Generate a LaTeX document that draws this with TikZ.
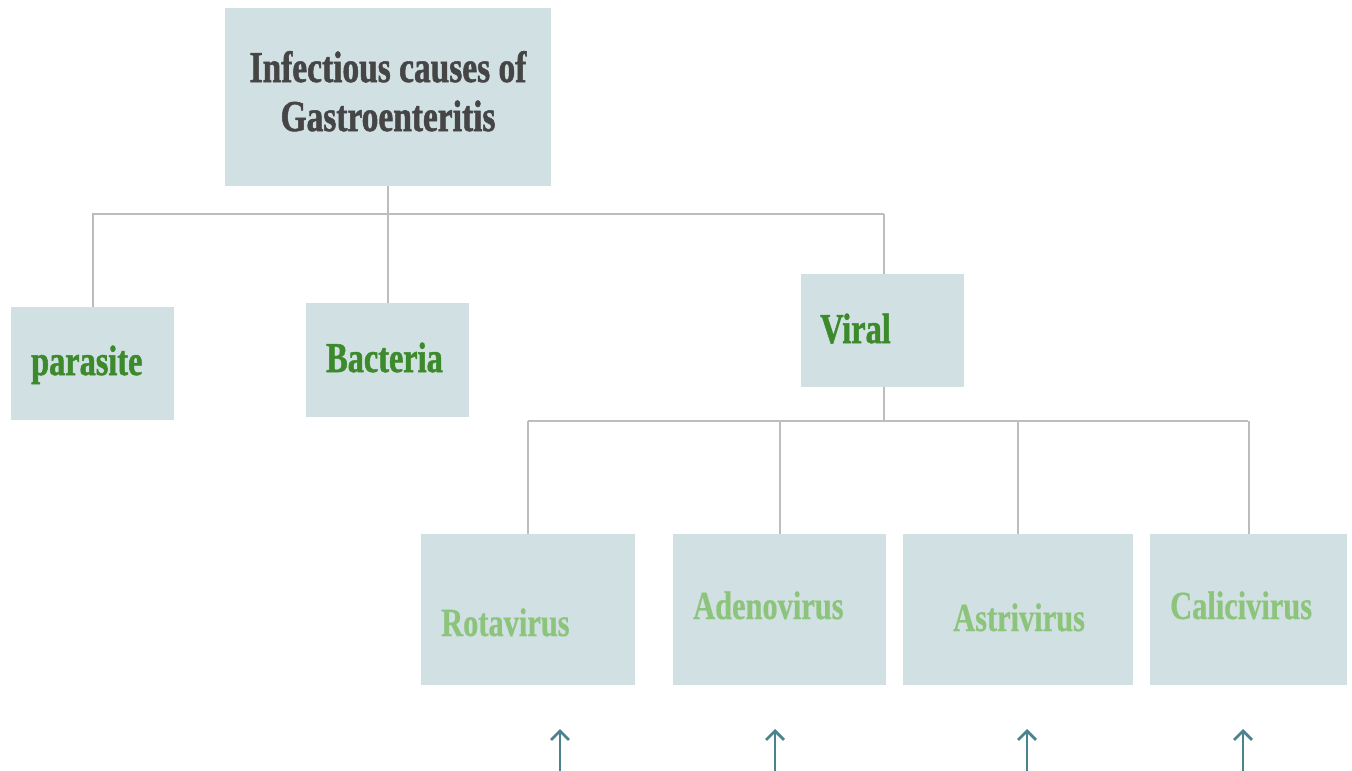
\documentclass[tikz,border=0pt]{standalone}
\usepackage{fontspec}
\newfontfamily\boxfont[FakeStretch=0.76,FakeBold=0.5]{Liberation Serif Bold}
\newfontfamily\headfont[FakeStretch=0.76,FakeBold=1.2]{Liberation Serif Bold}
\usetikzlibrary{arrows.meta}
\definecolor{boxfill}{HTML}{D1E0E3}
\definecolor{titlegray}{HTML}{454545}
\definecolor{darkgreen}{HTML}{3D8A2C}
\definecolor{lightgreen}{HTML}{8DC47B}
\definecolor{linegray}{HTML}{BDBDBD}
\definecolor{arrowteal}{HTML}{4A828E}
\tikzset{
  box/.style={fill=boxfill, draw=none, inner sep=0pt},
  lbl/.style={inner sep=0pt, anchor=base west, font=\boxfont\fontsize{40}{44}\selectfont},
  hlbl/.style={inner sep=0pt, anchor=base west, font=\headfont\fontsize{42.5}{46}\selectfont},
  ttl/.style={inner sep=0pt, anchor=base, text=titlegray, font=\headfont\fontsize{44}{48}\selectfont},
  conn/.style={draw=linegray, line width=2pt},
  uparrow/.style={draw=arrowteal, line width=2.7pt, -{Straight Barb[length=9pt,width=18pt,line width=2.7pt]}}
}
\begin{document}
\begin{tikzpicture}[x=1pt,y=-1pt]
\useasboundingbox (0,0) rectangle (1352,771);
% boxes
\node[box, minimum width=326pt, minimum height=178pt] (top) at (388,97) {};
\node[box, minimum width=163pt, minimum height=113pt] (parasite) at (92.5,363.5) {};
\node[box, minimum width=163pt, minimum height=114pt] (bacteria) at (387.5,360) {};
\node[box, minimum width=163pt, minimum height=113pt] (viral) at (882.5,330.5) {};
\node[box, minimum width=214pt, minimum height=151pt] (rota) at (528,609.5) {};
\node[box, minimum width=213pt, minimum height=151pt] (adeno) at (779.5,609.5) {};
\node[box, minimum width=230pt, minimum height=151pt] (astri) at (1018,609.5) {};
\node[box, minimum width=197pt, minimum height=151pt] (calici) at (1248.5,609.5) {};
% texts
\node[ttl] (t1) at (388,82) {Infectious causes of};
\node[ttl] (t2) at (388,131) {Gastroenteritis};
\node[hlbl, text=darkgreen] (tpar) at (31,375) {parasite};
\node[hlbl, text=darkgreen] (tbac) at (326,372) {Bacteria};
\node[hlbl, text=darkgreen] (tvir) at (820,343) {Viral};
\node[lbl, text=lightgreen] (trot) at (441,636) {Rotavirus};
\node[lbl, text=lightgreen] (tade) at (693,619) {Adenovirus};
\node[lbl, text=lightgreen] (tast) at (953,631) {Astrivirus};
\node[lbl, text=lightgreen] (tcal) at (1170,619) {Calicivirus};
% connectors
\coordinate (j1) at (388,214);
\coordinate (j2) at (884,421);
\draw[conn] (top.south) -- (j1);
\draw[conn] (92,214) -- (884,214);
\draw[conn] (j1 -| parasite.north) -- (parasite.north);
\draw[conn] (j1 -| bacteria.north) -- (bacteria.north);
\draw[conn] (884,214) -- (884,274);
\draw[conn] (884,387) -- (j2);
\draw[conn] (528,421) -- (1248,421);
\draw[conn] (j2 -| rota.north) -- (rota.north);
\draw[conn] (j2 -| adeno.north) -- (adeno.north);
\draw[conn] (j2 -| astri.north) -- (astri.north);
\draw[conn] (j2 -| calici.north) -- (calici.north);
% arrows
\coordinate (a1b) at (560,771); \coordinate (a1t) at (560,729);
\coordinate (a2b) at (775,771); \coordinate (a2t) at (775,729);
\coordinate (a3b) at (1027,771); \coordinate (a3t) at (1027,729);
\coordinate (a4b) at (1243,771); \coordinate (a4t) at (1243,729);
\draw[uparrow] (a1b) -- (a1t);
\draw[uparrow] (a2b) -- (a2t);
\draw[uparrow] (a3b) -- (a3t);
\draw[uparrow] (a4b) -- (a4t);
\end{tikzpicture}
\end{document}
